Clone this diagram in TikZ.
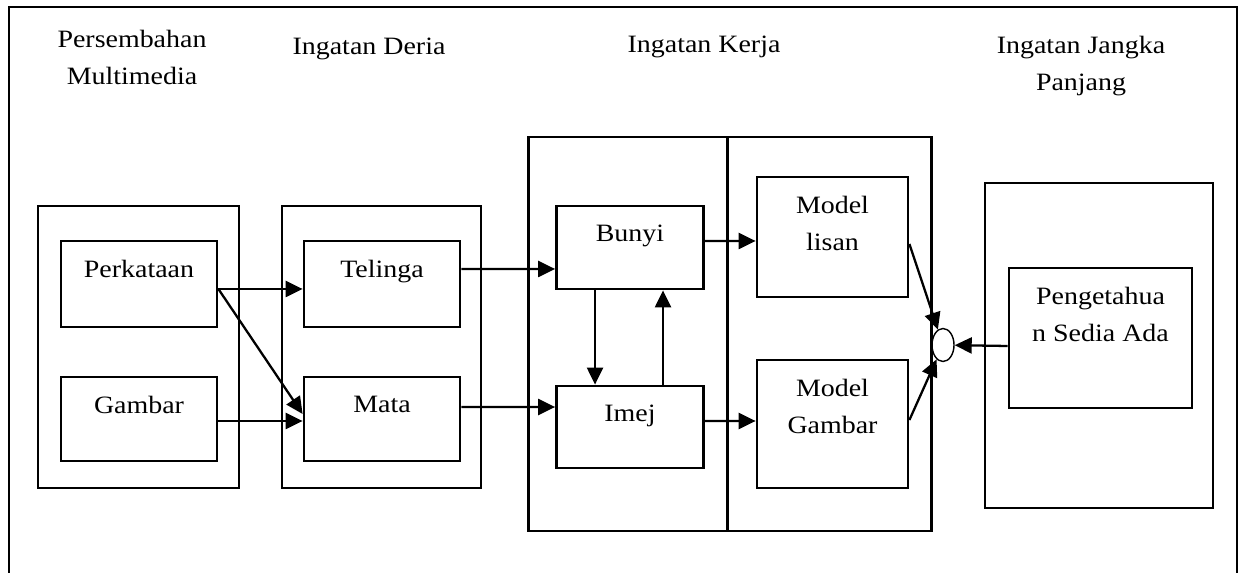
\documentclass[tikz,border=0pt]{standalone}
\usepackage{fontspec}
\setmainfont[FakeStretch=1.12]{Liberation Serif}
\usepackage{tikz}
\usetikzlibrary{arrows.meta,positioning,shapes,shapes.geometric}

\newcommand{\teks}{\fontsize{14.2}{21}\selectfont}

\begin{document}
\begin{tikzpicture}[x=0.02cm, y=-0.02cm,
    kotak/.style={rectangle, draw, line width=1.6pt, inner sep=0pt},
    isi/.style={anchor=north, inner sep=0pt, yshift=-0.4cm, align=center, font=\teks},
    tajuk/.style={anchor=north, inner sep=0pt, align=center, font=\teks},
    panah/.style={-{Triangle[length=0.34cm, width=0.32cm]}, line width=1.3pt}]

    \useasboundingbox (0,0) rectangle (1239,573);
    \draw [line width=1.4pt] (9,573) -- (9,7) -- (1237,7) -- (1237,573);

    % tajuk lajur
    \node (tPersembahan) [tajuk] at (132,30) {Persembahan\\Multimedia};
    \node (tDeria) [tajuk] at (369,38) {Ingatan Deria};
    \node (tKerja) [tajuk] at (704,36) {Ingatan Kerja};
    \node (tJangka) [tajuk] at (1081,36) {Ingatan Jangka\\Panjang};

    % kotak kumpulan
    \node (grpPersembahan) [kotak, minimum width=4.02cm, minimum height=5.64cm] at (138.5,347) {};
    \node (grpDeria) [kotak, minimum width=3.98cm, minimum height=5.64cm] at (381.5,347) {};
    \node (grpKerjaA) [kotak, minimum width=3.99cm, minimum height=7.88cm] at (628,334) {};
    \node (grpKerjaB) [kotak, minimum width=4.07cm, minimum height=7.88cm] at (829.5,334) {};
    \node (grpJangka) [kotak, minimum width=4.56cm, minimum height=6.5cm] at (1099,345.5) {};

    % kotak dalam
    \node (perkataan) [kotak, minimum width=3.12cm, minimum height=1.72cm, label={[isi]north:Perkataan}] at (139,284) {};
    \node (gambar) [kotak, minimum width=3.12cm, minimum height=1.68cm, label={[isi]north:Gambar}] at (139,419) {};
    \node (telinga) [kotak, minimum width=3.12cm, minimum height=1.72cm, label={[isi]north:Telinga}] at (382,284) {};
    \node (mata) [kotak, minimum width=3.12cm, minimum height=1.68cm, label={[isi]north:Mata}] at (382,419) {};
    \node (bunyi) [kotak, minimum width=2.94cm, minimum height=1.66cm, label={[isi]north:Bunyi}] at (630,247.5) {};
    \node (imej) [kotak, minimum width=2.94cm, minimum height=1.64cm, label={[isi]north:Imej}] at (630,427) {};
    \node (lisan) [kotak, minimum width=3.02cm, minimum height=2.4cm, label={[isi]north:Model\\lisan}] at (832.5,237) {};
    \node (mgambar) [kotak, minimum width=3.02cm, minimum height=2.56cm, label={[isi]north:Model\\Gambar}] at (832.5,424) {};
    \node (tahu) [kotak, minimum width=3.66cm, minimum height=2.8cm, label={[isi]north:Pengetahua\\n Sedia Ada}] at (1100.5,338) {};
    \node (sambung) [ellipse, draw, line width=0.8pt, inner sep=0pt, minimum width=0.44cm, minimum height=0.66cm] at (943,345) {};

    \draw [panah] ([yshift=-0.1cm]perkataan.east) -- ([yshift=-0.1cm]telinga.west);
    \draw [panah] ([yshift=-0.1cm]perkataan.east) -- ([yshift=0.1cm]mata.west);
    \draw [panah] ([yshift=-0.04cm]gambar.east) -- ([yshift=-0.04cm]mata.west);
    \draw [panah] ([yshift=0.3cm]telinga.east) -- ([yshift=-0.43cm]bunyi.west);
    \draw [panah] ([yshift=0.24cm]mata.east) -- ([yshift=0.4cm]imej.west);
    \draw [panah] ([xshift=-0.7cm]bunyi.south) -- ([xshift=-0.7cm]imej.north);
    \draw [panah] ([xshift=0.66cm]imej.north) -- ([xshift=0.66cm]bunyi.south);
    \draw [panah] ([yshift=0.13cm]bunyi.east) -- ([yshift=-0.08cm]lisan.west);
    \draw [panah] ([yshift=0.12cm]imej.east) -- ([yshift=0.06cm]mgambar.west);
    \draw [panah] ([yshift=-0.14cm]lisan.east) -- (sambung);
    \draw [panah] ([yshift=0.08cm]mgambar.east) -- (sambung);
    \draw [panah] ([yshift=-0.16cm]tahu.west) -- (sambung);
\end{tikzpicture}
\end{document}
